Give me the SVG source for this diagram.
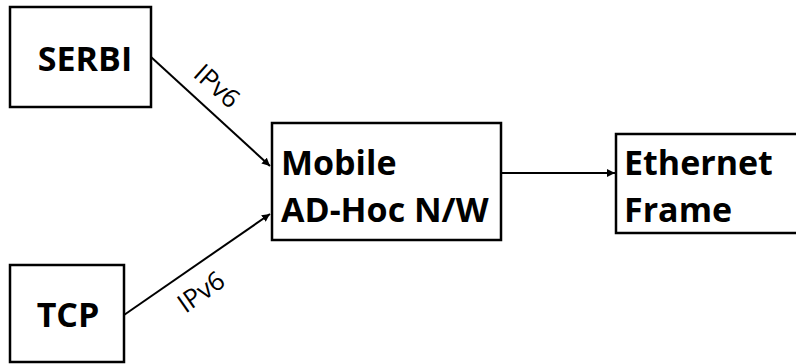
<svg xmlns="http://www.w3.org/2000/svg" width="796" height="364" viewBox="0 0 796 364">
<defs>
<style>
.box{fill:#fff;stroke:#000;stroke-width:2.5}
.lbl{font-family:"Open Sans","Liberation Sans",sans-serif;font-weight:700;font-size:34px;fill:#000}
.edge{stroke:#000;stroke-width:2;fill:none}
.elbl{font-family:"Open Sans","Liberation Sans",sans-serif;font-size:26px;fill:#000;text-anchor:middle}
</style>
<marker id="arr" viewBox="0 0 10 10" refX="10" refY="5" markerWidth="4" markerHeight="4" orient="auto" markerUnits="strokeWidth">
<path d="M0,0 L10,5 L0,10 z" fill="#000"/>
</marker>
</defs>
<rect width="796" height="364" fill="#fff"/>
<g id="connectors">
<line class="edge" x1="151" y1="57" x2="270" y2="166" marker-end="url(#arr)"/>
<line class="edge" x1="124" y1="315" x2="270" y2="214" marker-end="url(#arr)"/>
<line class="edge" x1="501" y1="173" x2="615" y2="173" marker-end="url(#arr)"/>
<text class="elbl" transform="translate(217,86) rotate(42)" x="0" y="9">IPv6</text>
<text class="elbl" transform="translate(201,292) rotate(-35)" x="0" y="9">IPv6</text>
</g>
<g id="serbi">
<rect class="box" x="10" y="7" width="141" height="100"/>
<text class="lbl" x="85" y="71" text-anchor="middle">SERBI</text>
</g>
<g id="tcp">
<rect class="box" x="10" y="265" width="114" height="97"/>
<text class="lbl" x="68" y="327" text-anchor="middle">TCP</text>
</g>
<g id="mobile">
<rect class="box" x="272" y="123" width="229" height="117"/>
<text class="lbl" x="281" y="175">Mobile</text>
<text class="lbl" x="281" y="222">AD-Hoc N/W</text>
</g>
<g id="ethernet">
<rect class="box" x="616" y="134" width="190" height="99"/>
<text class="lbl" x="624" y="175">Ethernet</text>
<text class="lbl" x="624" y="222">Frame</text>
</g>
</svg>
